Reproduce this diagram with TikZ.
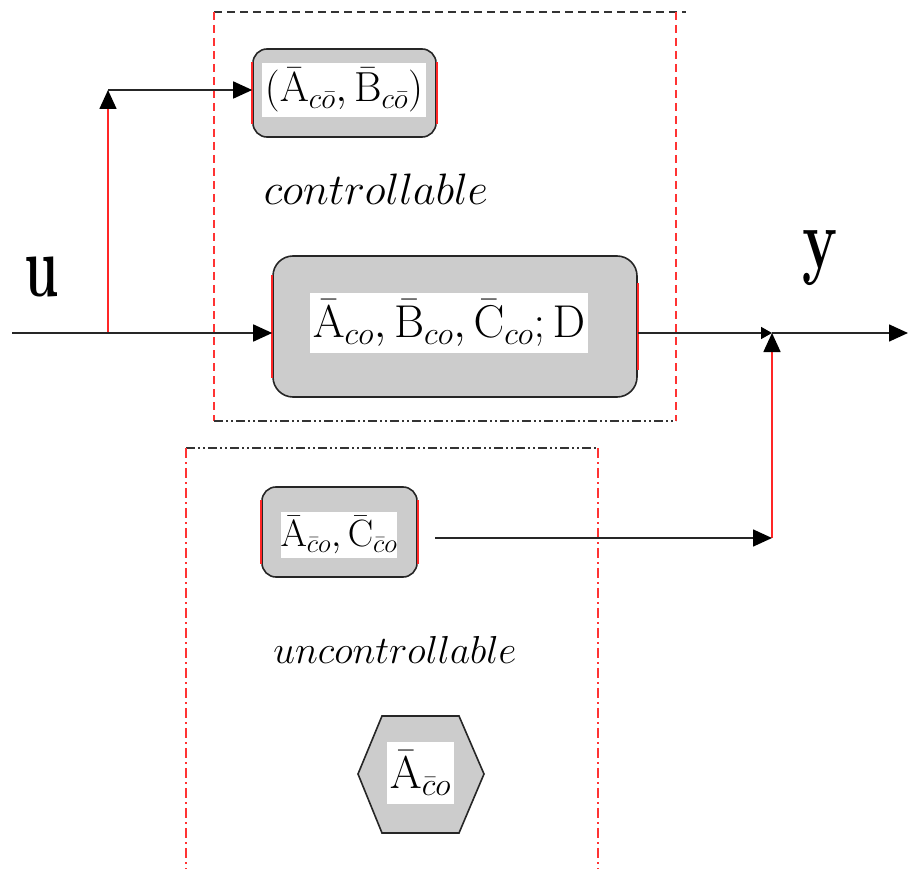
\RequirePackage{fix-cm}
\documentclass[tikz,border=0pt]{standalone}
\usepackage{graphicx}
\usetikzlibrary{arrows.meta,calc}
\begin{document}
\begin{tikzpicture}[x=1pt,y=-1pt,
  blk/.style={line width=1.6pt, draw=black!85},
  redl/.style={line width=1.6pt, draw=red!85!white},
  tip/.style={-{Triangle[length=19pt,width=17pt,color=black,fill=black]}},
  smalltip/.style={-{Triangle[length=11pt,width=12pt,color=black,fill=black]}},
  blockbox/.style={draw=black!85, line width=1.6pt, fill=gray!40, rounded corners=#1, inner sep=0pt},
  blockbox/.default=14pt,
  whitebox/.style={fill=white, inner sep=0pt},
  dashtop/.style={line width=1.5pt, draw=black!80, dash pattern=on 8pt off 5pt},
  dashside/.style={line width=1.5pt, draw=red!80!white, dash pattern=on 8pt off 5pt},
  dotline/.style={line width=1.5pt, draw=black!80, dash pattern=on 9pt off 3pt on 2pt off 3pt on 2pt off 3pt},
  dotside/.style={line width=1.5pt, draw=red!80!white, dash pattern=on 10pt off 4pt on 2pt off 4pt}
]
\useasboundingbox (0,0) rectangle (908,869);

% enclosing regions
\draw[dashtop] (214,12) -- (686,12);
\draw[dashside] (214,12) -- (214,421);
\draw[dashside] (676,12) -- (676,421);
\draw[dotline] (214,421) -- (676,421);
\draw[dotline] (186,448) -- (598,448);
\draw[dotside] (186,448) -- (186,869);
\draw[dotside] (598,448) -- (598,869);

% blocks
\node[blockbox=14pt, minimum width=183pt, minimum height=88pt] (b1) at (344.5,93) {};
\draw[redl] ([yshift=-14pt]b1.north west) -- ([yshift=14pt]b1.south west);
\draw[redl] ([yshift=-14pt]b1.north east) -- ([yshift=14pt]b1.south east);
\node[whitebox, minimum width=164pt, minimum height=54pt] (t1) at (344,90)
  {\fontsize{42}{42}\selectfont$(\bar{\mathrm{A}}_{c\bar{o}},\bar{\mathrm{B}}_{c\bar{o}})$};

\node[blockbox=20pt, minimum width=364pt, minimum height=141pt] (b2) at (455,326.5) {};
\draw[redl] ([yshift=-20pt]b2.north west) -- ([yshift=20pt]b2.south west);
\draw[redl] ([yshift=-28pt]b2.north east) -- ([yshift=28pt]b2.south east);
\node[whitebox, minimum width=278pt, minimum height=60pt] (t2) at (449,323)
  {\fontsize{46}{46}\selectfont$\bar{\mathrm{A}}_{co},\bar{\mathrm{B}}_{co},\bar{\mathrm{C}}_{co};\mathrm{D}$};

\node[blockbox=14pt, minimum width=155pt, minimum height=90pt] (b3) at (339.5,532) {};
\draw[redl] ([yshift=-14pt]b3.north west) -- ([yshift=14pt]b3.south west);
\draw[redl] ([yshift=-14pt]b3.north east) -- ([yshift=14pt]b3.south east);
\node[whitebox, minimum width=116pt, minimum height=46pt] (t3) at (339,535)
  {\fontsize{38}{38}\selectfont$\bar{\mathrm{A}}_{\bar{c}o},\bar{\mathrm{C}}_{\bar{c}o}$};

\draw[line width=1.6pt, draw=black!85, fill=gray!40]
  (382,716) -- (459,716) -- (484,774) -- (459,833) -- (382,833) -- (358,774) -- cycle;
\node[whitebox, minimum width=67pt, minimum height=62pt] (t4) at (420.5,773)
  {\fontsize{46}{46}\selectfont$\bar{\mathrm{A}}_{\bar{c}o}$};

% labels
\node[anchor=base] (ctl) at (376,205) {\fontsize{44}{44}\selectfont$controllable$};
\node[anchor=base] (unc) at (395,663) {\fontsize{39}{39}\selectfont$uncontrollable$};
\node (u) at (42,277) {\scalebox{1}[1.6]{\fontsize{55}{55}\selectfont\bfseries u}};
\node (y) at (820,258) {\scalebox{1}[1.45]{\fontsize{59}{59}\selectfont\bfseries y}};

% connectors
\coordinate (in) at (12,333);
\coordinate (br) at (108,333);
\coordinate (up) at (108,90);
\coordinate (j) at (772,333);
\coordinate (out) at (908,333);
\coordinate (o3) at (435,538);
\coordinate (j3) at (772,538);

\draw[redl, tip] (br) -- (up);
\draw[blk, tip] (in) -- (b2.west |- in);
\draw[blk, tip] (up) -- (b1.west |- up);
\draw[redl, tip] (j3) -- (j);
\draw[blk, smalltip] (b2.east |- j) -- (j);
\draw[blk, tip] (j) -- (out);
\draw[blk, tip] (o3) -- (j3);
\end{tikzpicture}
\end{document}
